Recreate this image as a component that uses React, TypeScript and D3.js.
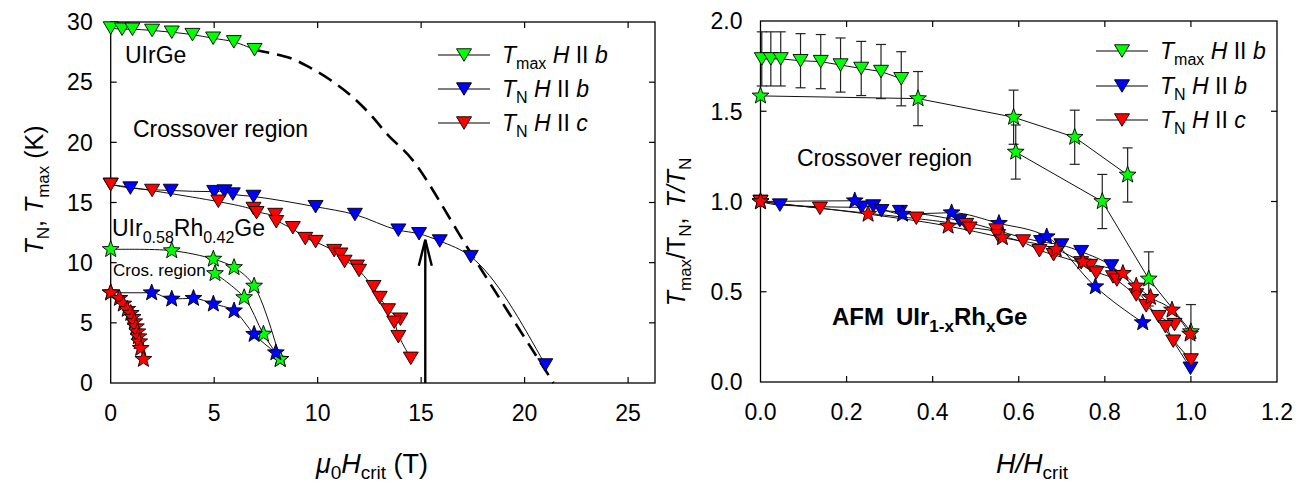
import React from 'react';
import * as d3 from 'd3';

const FONT = "'Liberation Sans', Arial, Helvetica, sans-serif";
const GREEN = '#00ff00';
const BLUE = '#0000ff';
const RED = '#ff0000';

// ---------- Left panel data (mu0 Hcrit in T, temperature in K) ----------
// UIrGe, T_max, H || b (green triangles)
const uirgeTmaxB_H = [0, 0.55, 1.05, 2.0, 2.95, 3.95, 4.95, 5.95, 6.95];
const uirgeTmaxB_T = [29.5, 29.4, 29.4, 29.3, 29.15, 28.95, 28.65, 28.35, 27.7];
// dashed guide line (crossover boundary)
const dashedGuide_H = [6.95, 8.67, 9.64, 10.6, 11.6, 12.5, 13.4, 14.6, 17.4, 21.4];
const dashedGuide_T = [27.7, 27.0, 26.2, 25.2, 23.9, 22.4, 20.6, 18.5, 10.8, 0];
// UIrGe, T_N, H || b (blue triangles)
const uirgeTNb_H = [0, 0.95, 2.9, 5.0, 5.5, 5.9, 6.9, 9.9, 11.8, 13.9, 14.9, 15.9, 17.4, 21.0];
const uirgeTNb_T = [16.5, 16.2, 16.0, 15.9, 15.95, 15.7, 15.5, 14.65, 14.0, 12.7, 12.4, 11.8, 10.5, 1.5];
// UIrGe, T_N, H || c (red triangles)
const uirgeTNc_H = [0, 2.0, 5.2, 6.9, 7.05, 7.95, 8.0, 8.8, 9.4, 9.9, 10.8, 11.1, 11.3, 11.9, 12.0, 12.7, 13.0, 13.4, 14.0, 13.7, 13.9, 14.5];
const uirgeTNc_T = [16.5, 16.0, 15.1, 14.5, 14.15, 14.0, 13.4, 12.9, 12.0, 11.75, 11.0, 10.7, 10.1, 9.7, 9.35, 8.0, 7.1, 6.07, 5.3, 5.05, 3.85, 2.05];
// UIr0.58Rh0.42Ge, T_max (green stars), two branches
const rhTmaxA_H = [0, 2.95, 4.96, 5.96, 6.93, 8.19];
const rhTmaxA_T = [11.1, 11.0, 10.3, 9.6, 8.06, 1.97];
const rhTmaxB_H = [5.04, 6.45, 7.38, 8.19];
const rhTmaxB_T = [9.1, 7.1, 4.07, 1.97];
// UIr0.58Rh0.42Ge, T_N, H || b (blue stars)
const rhTNb_H = [0, 1.98, 2.95, 4.0, 4.96, 5.96, 6.93, 7.98];
const rhTNb_T = [7.5, 7.5, 6.98, 7.04, 6.57, 6.0, 4.05, 2.52];
// UIr0.58Rh0.42Ge, T_N, H || c (red stars)
const rhTNc_H = [0, 0.42, 0.61, 0.8, 0.97, 1.06, 1.14, 1.22, 1.29, 1.34, 1.38, 1.45, 1.58];
const rhTNc_T = [7.5, 7.04, 6.57, 6.13, 5.79, 5.46, 5.1, 4.68, 4.26, 3.85, 3.43, 2.88, 1.97];
// arrow position
const arrowH = 15.2;
const arrowT = 11.9;

// ---------- Right panel data (H/Hcrit, normalised T) ----------
const nTriTmax_X = [0.003, 0.024, 0.047, 0.093, 0.14, 0.186, 0.234, 0.28, 0.327];
const nTriTmax_Y = [1.79, 1.79, 1.79, 1.78, 1.775, 1.756, 1.737, 1.72, 1.68];
const nTriTmax_E = [0.15, 0.15, 0.15, 0.15, 0.15, 0.15, 0.15, 0.15, 0.15];
const nStarTmaxA_X = [0, 0.366, 0.588, 0.73, 0.853];
const nStarTmaxA_Y = [1.585, 1.57, 1.467, 1.356, 1.147];
const nStarTmaxA_E = [0, 0.15, 0.15, 0.15, 0.15];
const nStarTmaxB_X = [0.593, 0.794, 0.902, 1.0];
const nStarTmaxB_Y = [1.274, 1.0, 0.571, 0.279];
const nStarTmaxB_E = [0.15, 0.15, 0.15, 0.15];
const nTriTNb_X = [0, 0.045, 0.235, 0.262, 0.281, 0.324, 0.463, 0.652, 0.699, 0.745, 0.815, 0.999];
const nTriTNb_Y = [1.0, 0.98, 0.968, 0.975, 0.949, 0.944, 0.894, 0.777, 0.759, 0.722, 0.643, 0.076];
const nTriTNc_X = [0, 0.138, 0.362, 0.478, 0.486, 0.548, 0.552, 0.61, 0.648, 0.681, 0.745, 0.766, 0.78, 0.819, 0.828, 0.873, 0.896, 0.925, 0.962, 0.941, 0.959, 1.0];
const nTriTNc_Y = [1.0, 0.962, 0.907, 0.872, 0.852, 0.842, 0.81, 0.781, 0.727, 0.705, 0.66, 0.645, 0.604, 0.582, 0.565, 0.482, 0.422, 0.362, 0.318, 0.306, 0.226, 0.122];
const nStarTNb_X = [0, 0.219, 0.33, 0.444, 0.554, 0.665, 0.778, 0.888];
const nStarTNb_Y = [1.0, 1.004, 0.93, 0.938, 0.879, 0.805, 0.528, 0.329];
const nStarTNc_X = [0, 0.25, 0.436, 0.562, 0.687, 0.749, 0.842, 0.873, 0.906, 0.956, 0.998];
const nStarTNc_Y = [0.999, 0.93, 0.864, 0.8, 0.735, 0.666, 0.602, 0.532, 0.469, 0.399, 0.266];

// ticks
const leftXTicks = [0, 5, 10, 15, 20, 25];
const leftYTicks = [0, 5, 10, 15, 20, 25, 30];
const rightXTicks = [0, 0.2, 0.4, 0.6, 0.8, 1.0, 1.2];
const rightYTicks = [0, 0.5, 1.0, 1.5, 2.0];

// ---------- geometry ----------
const W = 1311;
const H = 485;
const LP = { x0: 110.7, x1: 655, y0: 383, y1: 22 };
const RP = { x0: 760.5, x1: 1277, y0: 382, y1: 21 };
const lx = d3.scaleLinear().domain([0, 26.3]).range([LP.x0, LP.x1]);
const ly = d3.scaleLinear().domain([0, 30]).range([LP.y0, LP.y1]);
const rx = d3.scaleLinear().domain([0, 1.2]).range([RP.x0, RP.x1]);
const ry = d3.scaleLinear().domain([0, 2]).range([RP.y0, RP.y1]);

const FS = 23;
const SUB = 16;
const TFS = 27;
const TSUB = 19;

function zip(xs: number[], ys: number[]): [number, number][] {
  return xs.map((x, i) => [x, ys[i]] as [number, number]);
}

function path(xs: number[], ys: number[], sx: any, sy: any, curve: any) {
  return d3.line<[number, number]>().x(d => sx(d[0])).y(d => sy(d[1])).curve(curve)(zip(xs, ys)) || '';
}

function triPath(cx: number, cy: number) {
  const w = 15, h = 12.5;
  return `M${cx - w / 2},${cy - h / 2}L${cx + w / 2},${cy - h / 2}L${cx},${cy + h / 2}Z`;
}

function starPath(cx: number, cy: number) {
  const R = 8.8, r = 3.7;
  let d = '';
  for (let i = 0; i < 10; i++) {
    const a = -Math.PI / 2 + (i * Math.PI) / 5;
    const rr = i % 2 === 0 ? R : r;
    d += (i === 0 ? 'M' : 'L') + (cx + rr * Math.cos(a)).toFixed(2) + ',' + (cy + rr * Math.sin(a)).toFixed(2);
  }
  return d + 'Z';
}

function Markers({ xs, ys, sx, sy, kind, color }: any) {
  return (
    <g>
      {xs.map((x: number, i: number) => (
        <path key={i} d={kind === 'tri' ? triPath(sx(x), sy(ys[i])) : starPath(sx(x), sy(ys[i]))}
          fill={color} stroke="#000" strokeWidth={0.9} strokeLinejoin="miter" />
      ))}
    </g>
  );
}

function ErrBars({ xs, ys, es, sx, sy }: any) {
  return (
    <g stroke="#222" strokeWidth={1.2}>
      {xs.map((x: number, i: number) => {
        if (!es[i]) return null;
        const px = sx(x);
        const t = sy(ys[i] + es[i]);
        const b = sy(ys[i] - es[i]);
        return (
          <g key={i}>
            <line x1={px} x2={px} y1={t} y2={b} />
            <line x1={px - 5} x2={px + 5} y1={t} y2={t} />
            <line x1={px - 5} x2={px + 5} y1={b} y2={b} />
          </g>
        );
      })}
    </g>
  );
}

function Frame({ p, sx, sy, xt, yt, fmt }: any) {
  const tl = 6;
  return (
    <g>
      <rect x={p.x0} y={p.y1} width={p.x1 - p.x0} height={p.y0 - p.y1} fill="none" stroke="#000" strokeWidth={1.3} />
      {xt.map((t: number) => (
        <g key={'x' + t}>
          {sx(t) > p.x0 + 1 && sx(t) < p.x1 - 1 && (
            <>
              <line x1={sx(t)} x2={sx(t)} y1={p.y0} y2={p.y0 - tl} stroke="#000" strokeWidth={1.2} />
              <line x1={sx(t)} x2={sx(t)} y1={p.y1} y2={p.y1 + tl} stroke="#000" strokeWidth={1.2} />
            </>
          )}
          <text x={sx(t)} y={p.y0 + 38} textAnchor="middle" fontSize={FS} fontFamily={FONT}>{fmt(t)}</text>
        </g>
      ))}
      {yt.map((t: number) => (
        <g key={'y' + t}>
          {sy(t) < p.y0 - 1 && sy(t) > p.y1 + 1 && (
            <>
              <line x1={p.x0} x2={p.x0 + tl} y1={sy(t)} y2={sy(t)} stroke="#000" strokeWidth={1.2} />
              <line x1={p.x1} x2={p.x1 - tl} y1={sy(t)} y2={sy(t)} stroke="#000" strokeWidth={1.2} />
            </>
          )}
          <text x={p.x0 - 18} y={sy(t)} dy="0.36em" textAnchor="end" fontSize={FS} fontFamily={FONT}>{fmt(t)}</text>
        </g>
      ))}
    </g>
  );
}

function LegendRow({ x, y, color, sub, field }: any) {
  return (
    <g>
      <line x1={x} x2={x + 52} y1={y} y2={y} stroke="#000" strokeWidth={1.2} />
      <path d={triPath(x + 26, y)} fill={color} stroke="#000" strokeWidth={0.9} />
      <text x={x + 64} y={y + 8} fontSize={FS} fontFamily={FONT}>
        <tspan fontStyle="italic">T</tspan>
        <tspan fontSize={SUB} dy={6}>{sub}</tspan>
        <tspan dy={-6}> </tspan>
        <tspan fontStyle="italic">H</tspan>
        <tspan> II </tspan>
        <tspan fontStyle="italic">{field}</tspan>
      </text>
    </g>
  );
}

export default function App() {
  const fmtInt = (d: number) => d3.format('d')(d);
  const fmt1 = (d: number) => d3.format('.1f')(d);
  const lin = d3.curveLinear;
  const cr = d3.curveCatmullRom.alpha(0.5);
  const mono = d3.curveMonotoneX;
  const basis = d3.curveBasis;
  const ln = { fill: 'none', stroke: '#111', strokeWidth: 1 };

  return (
    <svg width={W} height={H} style={{ position: 'absolute', left: 0, top: 0, background: '#fff' }} fontFamily={FONT}>
      <rect x={0} y={0} width={W} height={H} fill="#fff" />
      {/* ---------------- LEFT PANEL ---------------- */}
      <Frame p={LP} sx={lx} sy={ly} xt={leftXTicks} yt={leftYTicks} fmt={fmtInt} />
      {/* lines */}
      <path d={path(uirgeTmaxB_H, uirgeTmaxB_T, lx, ly, cr)} {...ln} />
      <path d={path(dashedGuide_H, dashedGuide_T, lx, ly, cr)} fill="none" stroke="#000" strokeWidth={2.6} strokeDasharray="15,8" />
      <path d={path(uirgeTNb_H, uirgeTNb_T, lx, ly, mono)} {...ln} />
      <path d={path(uirgeTNc_H, uirgeTNc_T, lx, ly, basis)} {...ln} />
      <path d={path(rhTmaxA_H, rhTmaxA_T, lx, ly, cr)} {...ln} />
      <path d={path(rhTmaxB_H, rhTmaxB_T, lx, ly, cr)} {...ln} />
      <path d={path(rhTNb_H, rhTNb_T, lx, ly, mono)} {...ln} />
      <path d={path(rhTNc_H, rhTNc_T, lx, ly, mono)} {...ln} />
      {/* arrow */}
      <g stroke="#000" strokeWidth={2.4} fill="none">
        <line x1={lx(arrowH)} x2={lx(arrowH)} y1={ly(0)} y2={ly(arrowT)} />
        <polyline points={`${lx(arrowH) - 6.5},${ly(arrowT) + 26} ${lx(arrowH)},${ly(arrowT)} ${lx(arrowH) + 6.5},${ly(arrowT) + 26}`} />
      </g>
      {/* markers */}
      <Markers xs={uirgeTmaxB_H} ys={uirgeTmaxB_T} sx={lx} sy={ly} kind="tri" color={GREEN} />
      <Markers xs={uirgeTNb_H} ys={uirgeTNb_T} sx={lx} sy={ly} kind="tri" color={BLUE} />
      <Markers xs={uirgeTNc_H} ys={uirgeTNc_T} sx={lx} sy={ly} kind="tri" color={RED} />
      <Markers xs={rhTmaxA_H} ys={rhTmaxA_T} sx={lx} sy={ly} kind="star" color={GREEN} />
      <Markers xs={rhTmaxB_H} ys={rhTmaxB_T} sx={lx} sy={ly} kind="star" color={GREEN} />
      <Markers xs={rhTNb_H} ys={rhTNb_T} sx={lx} sy={ly} kind="star" color={BLUE} />
      <Markers xs={rhTNc_H} ys={rhTNc_T} sx={lx} sy={ly} kind="star" color={RED} />
      {/* annotations */}
      <text x={125} y={63} fontSize={FS}>UIrGe</text>
      <text x={133} y={137} fontSize={FS}>Crossover region</text>
      <text x={112} y={236} fontSize={FS}>
        UIr<tspan fontSize={SUB} dy={7}>0.58</tspan><tspan dy={-7}>Rh</tspan><tspan fontSize={SUB} dy={7}>0.42</tspan><tspan dy={-7}>Ge</tspan>
      </text>
      <text x={113} y={276} fontSize={17}>Cros. region</text>
      {/* legend */}
      <LegendRow x={438} y={55} color={GREEN} sub="max" field="b" />
      <LegendRow x={438} y={89} color={BLUE} sub="N" field="b" />
      <LegendRow x={438} y={123} color={RED} sub="N" field="c" />
      {/* axis titles */}
      <text transform="translate(43,190) rotate(-90)" textAnchor="middle" fontSize={FS + 2}>
        <tspan fontStyle="italic">T</tspan><tspan fontSize={SUB + 1} dy={6}>N</tspan><tspan dy={-6}>, </tspan>
        <tspan fontStyle="italic">T</tspan><tspan fontSize={SUB + 1} dy={6}>max</tspan><tspan dy={-6}> (K)</tspan>
      </text>
      <text x={372} y={473} textAnchor="middle" fontSize={TFS}>
        <tspan fontStyle="italic">μ</tspan><tspan fontSize={TSUB} dy={6}>0</tspan><tspan dy={-6} fontStyle="italic">H</tspan>
        <tspan fontSize={TSUB} dy={6}>crit</tspan><tspan dy={-6}> (T)</tspan>
      </text>

      {/* ---------------- RIGHT PANEL ---------------- */}
      <Frame p={RP} sx={rx} sy={ry} xt={rightXTicks} yt={rightYTicks} fmt={fmt1} />
      <path d={path(nTriTmax_X, nTriTmax_Y, rx, ry, lin)} {...ln} />
      <path d={path(nStarTmaxA_X, nStarTmaxA_Y, rx, ry, lin)} {...ln} />
      <path d={path(nStarTmaxB_X, nStarTmaxB_Y, rx, ry, lin)} {...ln} />
      <path d={path(nTriTNb_X, nTriTNb_Y, rx, ry, mono)} {...ln} />
      <path d={path(nTriTNc_X, nTriTNc_Y, rx, ry, basis)} {...ln} />
      <path d={path(nStarTNb_X, nStarTNb_Y, rx, ry, mono)} {...ln} />
      <path d={path(nStarTNc_X, nStarTNc_Y, rx, ry, mono)} {...ln} />
      <ErrBars xs={nTriTmax_X} ys={nTriTmax_Y} es={nTriTmax_E} sx={rx} sy={ry} />
      <ErrBars xs={nStarTmaxA_X} ys={nStarTmaxA_Y} es={nStarTmaxA_E} sx={rx} sy={ry} />
      <ErrBars xs={nStarTmaxB_X} ys={nStarTmaxB_Y} es={nStarTmaxB_E} sx={rx} sy={ry} />
      <Markers xs={nTriTmax_X} ys={nTriTmax_Y} sx={rx} sy={ry} kind="tri" color={GREEN} />
      <Markers xs={nStarTmaxA_X} ys={nStarTmaxA_Y} sx={rx} sy={ry} kind="star" color={GREEN} />
      <Markers xs={nStarTmaxB_X} ys={nStarTmaxB_Y} sx={rx} sy={ry} kind="star" color={GREEN} />
      <Markers xs={nTriTNb_X} ys={nTriTNb_Y} sx={rx} sy={ry} kind="tri" color={BLUE} />
      <Markers xs={nStarTNb_X} ys={nStarTNb_Y} sx={rx} sy={ry} kind="star" color={BLUE} />
      <Markers xs={nTriTNc_X} ys={nTriTNc_Y} sx={rx} sy={ry} kind="tri" color={RED} />
      <Markers xs={nStarTNc_X} ys={nStarTNc_Y} sx={rx} sy={ry} kind="star" color={RED} />
      <text x={797} y={166} fontSize={FS}>Crossover region</text>
      <text x={832} y={325} fontSize={FS + 1} fontWeight="bold">
        <tspan>AFM</tspan>
        <tspan dx={12}>UIr</tspan><tspan fontSize={SUB + 1} dy={7}>1-x</tspan><tspan dy={-7}>Rh</tspan><tspan fontSize={SUB + 1} dy={7}>x</tspan><tspan dy={-7}>Ge</tspan>
      </text>
      <LegendRow x={1096} y={51} color={GREEN} sub="max" field="b" />
      <LegendRow x={1096} y={86} color={BLUE} sub="N" field="b" />
      <LegendRow x={1096} y={120} color={RED} sub="N" field="c" />
      <text transform="translate(685,232) rotate(-90)" textAnchor="middle" fontSize={FS + 2}>
        <tspan fontStyle="italic">T</tspan><tspan fontSize={SUB + 1} dy={6}>max</tspan><tspan dy={-6}>/T</tspan>
        <tspan fontSize={SUB + 1} dy={6}>N</tspan><tspan dy={-6}>,</tspan>
        <tspan dx={10} fontStyle="italic">T/T</tspan><tspan fontSize={SUB + 1} dy={6}>N</tspan>
      </text>
      <text x={1032} y={473} textAnchor="middle" fontSize={TFS}>
        <tspan fontStyle="italic">H/H</tspan><tspan fontSize={TSUB} dy={6}>crit</tspan>
      </text>
    </svg>
  );
}
